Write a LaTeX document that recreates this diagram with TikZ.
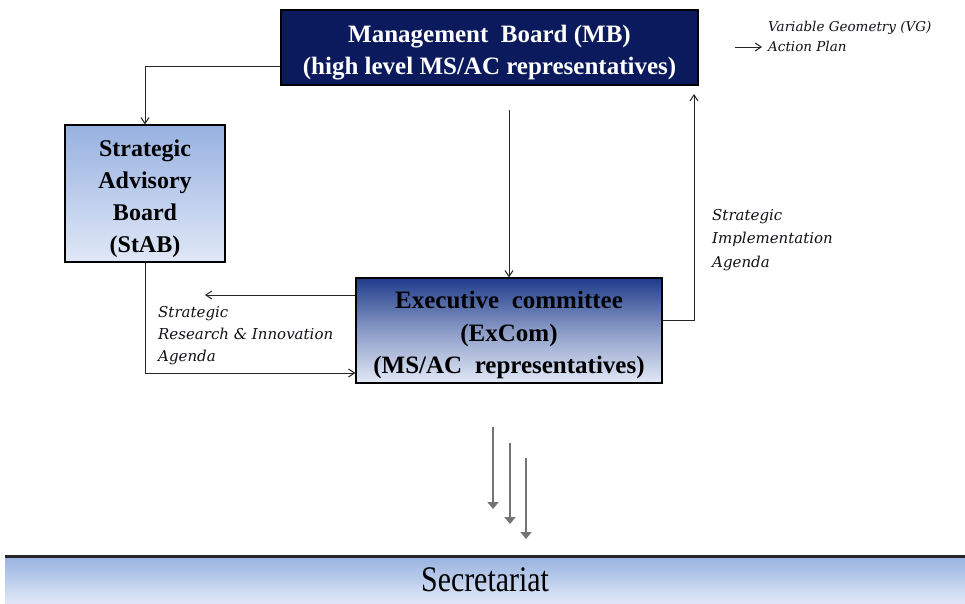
\documentclass[tikz,border=0pt]{standalone}
\usepackage{fontspec}
\setmainfont{Liberation Serif}
\newfontfamily\lblfont{DejaVu Serif}
\usetikzlibrary{arrows.meta,calc}
\definecolor{navy}{HTML}{0B1A5C}
\definecolor{exctop}{HTML}{1F3C8C}
\definecolor{excbot}{HTML}{E2E9F7}
\definecolor{lbtop}{HTML}{97B1E0}
\definecolor{lbbot}{HTML}{E0E8F7}
\definecolor{lblcol}{HTML}{111118}
\newcommand\tstrut[1]{\rule{0pt}{#1}}
\tikzset{
  boxtext/.style={font=\fontsize{25}{32.5}\selectfont\bfseries, align=center, inner sep=0pt},
  mbbox/.style={boxtext, draw=black, line width=1.2pt, fill=navy, text=white, minimum width=417pt, minimum height=75pt},
  stabbox/.style={boxtext, font=\fontsize{24}{32}\selectfont\bfseries, draw=black, line width=1.2pt, top color=lbtop, bottom color=lbbot, minimum width=160pt, minimum height=137pt},
  exbox/.style={boxtext, draw=black, line width=1.2pt, top color=exctop, bottom color=excbot, middle color=exctop!45!excbot, minimum width=306pt, minimum height=105pt},
  lbl/.style={font=\lblfont\fontsize{15}{22}\selectfont\itshape, align=left, anchor=north west, inner sep=0pt, text=lblcol},
  conn/.style={draw=black!85, line width=1pt, -{Straight Barb[length=6pt,width=8pt]}},
  grayarr/.style={draw=black!55, line width=2.6pt, -{Triangle[length=7pt,width=11pt]}}
}
\begin{document}
\begin{tikzpicture}[x=1pt,y=-1pt]
\useasboundingbox (0,0) rectangle (965,603);
\fill[white] (0,0) rectangle (965,603);

\node[mbbox] (mb) at (489.5,47.5) {\tstrut{28pt}Management\ \ Board (MB)\\(high level MS/AC representatives)};
\node[stabbox] (stab) at (145,193.5) {\tstrut{27pt}Strategic\\Advisory\\Board\\(StAB)};
\node[exbox] (ex) at (509,330.5) {\tstrut{27pt}Executive\ \ committee\\(ExCom)\\(MS/AC\ \ representatives)};

% Secretariat bar
\shade[top color=lbtop, bottom color=lbbot] (5,556) rectangle (965,603);
\draw[line width=3pt, black!85] (5,556) -- (965,556);
\node[inner sep=0pt] (sec) at (485,580) {\scalebox{0.83}[1]{\fontsize{36}{40}\selectfont Secretariat}};

% connectors
\draw[conn] ([yshift=-18.5pt]mb.west) -| (stab.north);
\draw[conn] (stab.south) |- ([yshift=-42.5pt]ex.west);
\coordinate (sriaend) at (205,295);
\draw[conn] ([yshift=35.5pt]ex.west) -- (sriaend);
\coordinate (mbdown) at (509,110);
\draw[conn] (mbdown) -- (ex.north);
\coordinate (siaend) at (694,94);
\draw[conn] ([yshift=10.5pt]ex.east) -| (siaend);
\coordinate (vgs) at (735,47);
\coordinate (vge) at (762,47);
\draw[conn] (vgs) -- (vge);

% labels
\node[lbl, font=\lblfont\fontsize{13.5}{20}\selectfont\itshape] (vg) at (768,21) {Variable Geometry (VG)\\Action Plan};
\node[lbl] (sria) at (158,306) {Strategic\\Research \& Innovation\\Agenda};
\node[lbl, font=\lblfont\fontsize{15}{23.5}\selectfont\itshape] (sia) at (712,209) {Strategic\\Implementation\\Agenda};

% gray arrows to secretariat
\coordinate (g1s) at (493,427); \coordinate (g1e) at (493,509);
\coordinate (g2s) at (510,443); \coordinate (g2e) at (510,524);
\coordinate (g3s) at (526,458); \coordinate (g3e) at (526,539);
\draw[grayarr] (g1s) -- (g1e);
\draw[grayarr] (g2s) -- (g2e);
\draw[grayarr] (g3s) -- (g3e);
\end{tikzpicture}
\end{document}
